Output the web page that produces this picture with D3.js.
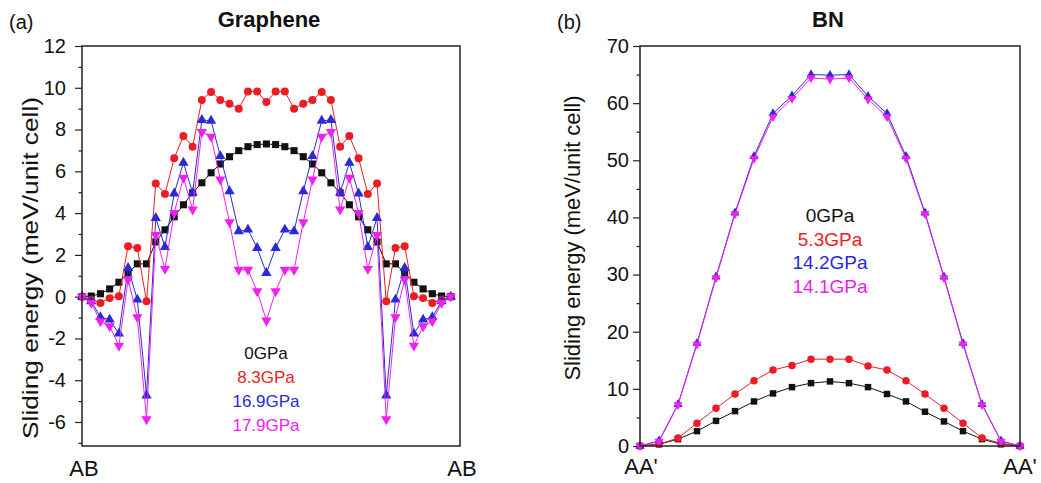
<!DOCTYPE html>
<html>
<head>
<meta charset="utf-8">
<title>Sliding energy</title>
<script src="https://cdn.jsdelivr.net/npm/d3@7"></script>
<style>
  body { margin: 0; background: #fff; }
  text { font-family: Arial, "Liberation Sans", sans-serif; fill: #111; }
</style>
</head>
<body>
<script>
// (a) graphene, 41 sliding steps from AB to AB
var grSteps = d3.range(41);
var gr0GPa = [0, 0.03, 0.14, 0.37, 0.69, 1.13, 1.57, 1.57, 2.62, 3.2, 3.82, 4.40, 4.97, 5.45, 5.93, 6.35, 6.70, 6.99, 7.18, 7.28, 7.31,
              7.28, 7.18, 6.99, 6.70, 6.35, 5.93, 5.45, 4.97, 4.40, 3.82, 3.2, 2.62, 1.57, 1.57, 1.13, 0.69, 0.37, 0.14, 0.03, 0];
var gr8GPa = [0, -0.15, -0.3, -0.07, 0.02, 2.41, 2.33, -0.22, 5.42, 4.92, 6.63, 7.69, 7.18, 9.42, 9.80, 9.42, 9.24, 9.0, 9.82, 9.82, 9.32,
              9.82, 9.82, 9.0, 9.24, 9.42, 9.80, 9.42, 7.18, 7.69, 6.63, 4.92, 5.42, -0.22, 2.33, 2.41, 0.02, -0.07, -0.3, -0.15, 0];
var gr17GPa = [0, -0.22, -0.98, -1.10, -1.77, 1.37, -0.14, -4.73, 3.77, 2.38, 4.94, 6.41, 4.97, 8.46, 8.42, 6.73, 5.05, 3.13, 3.21, 2.33, 1.13,
               2.33, 3.21, 3.13, 5.05, 6.73, 8.42, 8.46, 4.97, 6.41, 4.94, 2.38, 3.77, -4.73, -0.14, 1.37, -1.77, -1.10, -0.98, -0.22, 0];
var gr18GPa = [0, -0.3, -1.18, -1.42, -2.35, 0.82, -0.98, -5.87, 2.95, 1.33, 4.01, 5.69, 4.17, 7.88, 7.66, 5.61, 3.56, 1.29, 1.29, 0.26, -1.14,
               0.26, 1.29, 1.29, 3.56, 5.61, 7.66, 7.88, 4.17, 5.69, 4.01, 1.33, 2.95, -5.87, -0.98, 0.82, -2.35, -1.42, -1.18, -0.3, 0];
var grLabels = ["0GPa", "8.3GPa", "16.9GPa", "17.9GPa"];
var grEnds = ["AB", "AB"];

// (b) BN, 21 sliding steps from AA' to AA'
var bnSteps = d3.range(21);
var bn0GPa = [0, 0.3, 1.2, 2.6, 4.4, 6.1, 7.8, 9.2, 10.3, 11.0, 11.3, 11.0, 10.3, 9.1, 7.8, 6.0, 4.3, 2.6, 1.2, 0.3, 0];
var bn5GPa = [0, 0.3, 1.4, 4.0, 6.6, 9.1, 11.4, 13.3, 14.1, 15.2, 15.2, 15.2, 14.0, 13.3, 11.4, 9.1, 6.6, 4.0, 1.4, 0.45, 0];
var bn14aGPa = [0, 0.9, 7.3, 18.0, 29.6, 40.8, 50.7, 58.2, 61.3, 65.0, 64.9, 65.0, 61.2, 58.2, 50.7, 40.8, 29.6, 18.0, 7.3, 0.9, 0];
var bn14bGPa = [0, 0.8, 7.2, 17.8, 29.4, 40.6, 50.3, 57.6, 60.8, 64.4, 64.2, 64.4, 60.7, 57.6, 50.3, 40.6, 29.4, 17.8, 7.2, 0.8, 0];
var bnLabels = ["0GPa", "5.3GPa", "14.2GPa", "14.1GPa"];
var bnEnds = ["AA'", "AA'"];

var colors = ["#111111", "#ec1c24", "#2a2ad6", "#f020f0"];

var svg = d3.select("body").append("svg")
    .attr("width", 1041)
    .attr("height", 483);

svg.append("rect").attr("width", 1041).attr("height", 483).attr("fill", "#fff");

function marker(kind, size) {
    if (kind == "square") return d3.symbol().type(d3.symbolSquare).size(size)();
    if (kind == "circle") return d3.symbol().type(d3.symbolCircle).size(size)();
    return d3.symbol().type(d3.symbolTriangle).size(size)();
}

function panel(o) {
    var x = d3.scaleLinear().domain(o.xDomain).range([o.left, o.right]);
    var y = d3.scaleLinear().domain(o.yDomain).range([o.bottom, o.top]);
    var g = svg.append("g");

    // minor ticks
    g.append("g")
        .attr("transform", "translate(" + o.left + ",0)")
        .call(d3.axisLeft(y).tickValues(o.minor).tickSize(3.5).tickFormat(""))
        .call(function (a) { a.select(".domain").remove(); });

    g.append("g")
        .attr("class", "yaxis")
        .attr("transform", "translate(" + o.left + ",0)")
        .call(d3.axisLeft(y).tickValues(o.major).tickSize(7).tickPadding(o.pad)
            .tickFormat(function (d) { return String(d); }))
        .call(function (a) {
            a.select(".domain").remove();
            a.selectAll("text").attr("font-size", 20).attr("fill", "#111")
                .style("font-family", "Arial, 'Liberation Sans', sans-serif");
        });
    g.selectAll("g.tick line").attr("stroke", "#222").attr("stroke-width", 1.2);

    // series
    o.series.forEach(function (s, k) {
        var line = d3.line().x(function (d, i) { return x(o.steps[i]); }).y(function (d) { return y(d); });
        g.append("path")
            .datum(s.values)
            .attr("fill", "none")
            .attr("stroke", colors[k])
            .attr("stroke-width", 1)
            .attr("d", line);
        g.selectAll("path.m" + k)
            .data(s.values)
            .enter()
            .append("path")
            .attr("class", "m" + k)
            .attr("fill", colors[k])
            .attr("d", marker(s.shape, s.size))
            .attr("transform", function (d, i) {
                return "translate(" + x(o.steps[i]) + "," + y(d) + ")" + (s.down ? " rotate(180)" : "");
            });
    });

    // frame
    g.append("rect")
        .attr("x", o.left).attr("y", o.top)
        .attr("width", o.right - o.left).attr("height", o.bottom - o.top)
        .attr("fill", "none").attr("stroke", "#222").attr("stroke-width", 1.5);

    // end labels
    g.selectAll("text.end")
        .data(o.ends)
        .enter()
        .append("text")
        .attr("class", "end")
        .attr("x", function (d, i) { return o.endX[i]; })
        .attr("y", o.endY)
        .attr("text-anchor", "middle")
        .attr("font-size", 22)
        .text(function (d) { return d; });

    // legend
    g.selectAll("text.leg")
        .data(o.labels)
        .enter()
        .append("text")
        .attr("class", "leg")
        .attr("x", o.legX)
        .attr("y", function (d, i) { return o.legY + i * o.legStep; })
        .attr("text-anchor", "middle")
        .attr("font-size", o.legSize)
        .style("fill", function (d, i) { return colors[i]; })
        .text(function (d) { return d; });

    g.append("text")
        .attr("x", (o.left + o.right) / 2 - 2)
        .attr("y", 27)
        .attr("text-anchor", "middle")
        .attr("font-size", 22)
        .attr("font-weight", "bold")
        .text(o.title);

    g.append("text")
        .attr("x", o.tagX)
        .attr("y", 29)
        .attr("font-size", 20)
        .text(o.tag);

    g.append("text")
        .attr("transform", "translate(" + o.ytX + "," + o.ytY + ") rotate(-90)")
        .attr("text-anchor", "middle")
        .attr("font-size", 22)
        .attr("textLength", o.ytLen)
        .attr("lengthAdjust", "spacingAndGlyphs")
        .text("Sliding energy (meV/unit cell)");
}

panel({
    left: 82, right: 460, top: 46, bottom: 446,
    xDomain: [0, 41], yDomain: [-7.15, 12],
    steps: grSteps,
    major: [-6, -4, -2, 0, 2, 4, 6, 8, 10, 12],
    minor: [-7, -5, -3, -1, 1, 3, 5, 7, 9, 11],
    pad: 9,
    series: [
        {values: gr0GPa, shape: "square", size: 50},
        {values: gr8GPa, shape: "circle", size: 50},
        {values: gr17GPa, shape: "triangle", size: 46},
        {values: gr18GPa, shape: "triangle", size: 46, down: true}
    ],
    ends: grEnds, endX: [84, 462], endY: 476,
    labels: grLabels, legX: 266, legY: 359, legStep: 24, legSize: 17,
    title: "Graphene", tag: "(a)", tagX: 9,
    ytX: 38, ytY: 268, ytLen: 342
});

panel({
    left: 640, right: 1020, top: 46, bottom: 446,
    xDomain: [0, 20], yDomain: [0, 70],
    steps: bnSteps,
    major: [0, 10, 20, 30, 40, 50, 60, 70],
    minor: [5, 15, 25, 35, 45, 55, 65],
    pad: 4,
    series: [
        {values: bn0GPa, shape: "square", size: 42},
        {values: bn5GPa, shape: "circle", size: 44},
        {values: bn14aGPa, shape: "triangle", size: 36},
        {values: bn14bGPa, shape: "triangle", size: 36, down: true}
    ],
    ends: bnEnds, endX: [641, 1020], endY: 474,
    labels: bnLabels, legX: 830, legY: 222, legStep: 23.5, legSize: 19,
    title: "BN", tag: "(b)", tagX: 557,
    ytX: 580, ytY: 238, ytLen: 285
});
</script>
</body>
</html>
